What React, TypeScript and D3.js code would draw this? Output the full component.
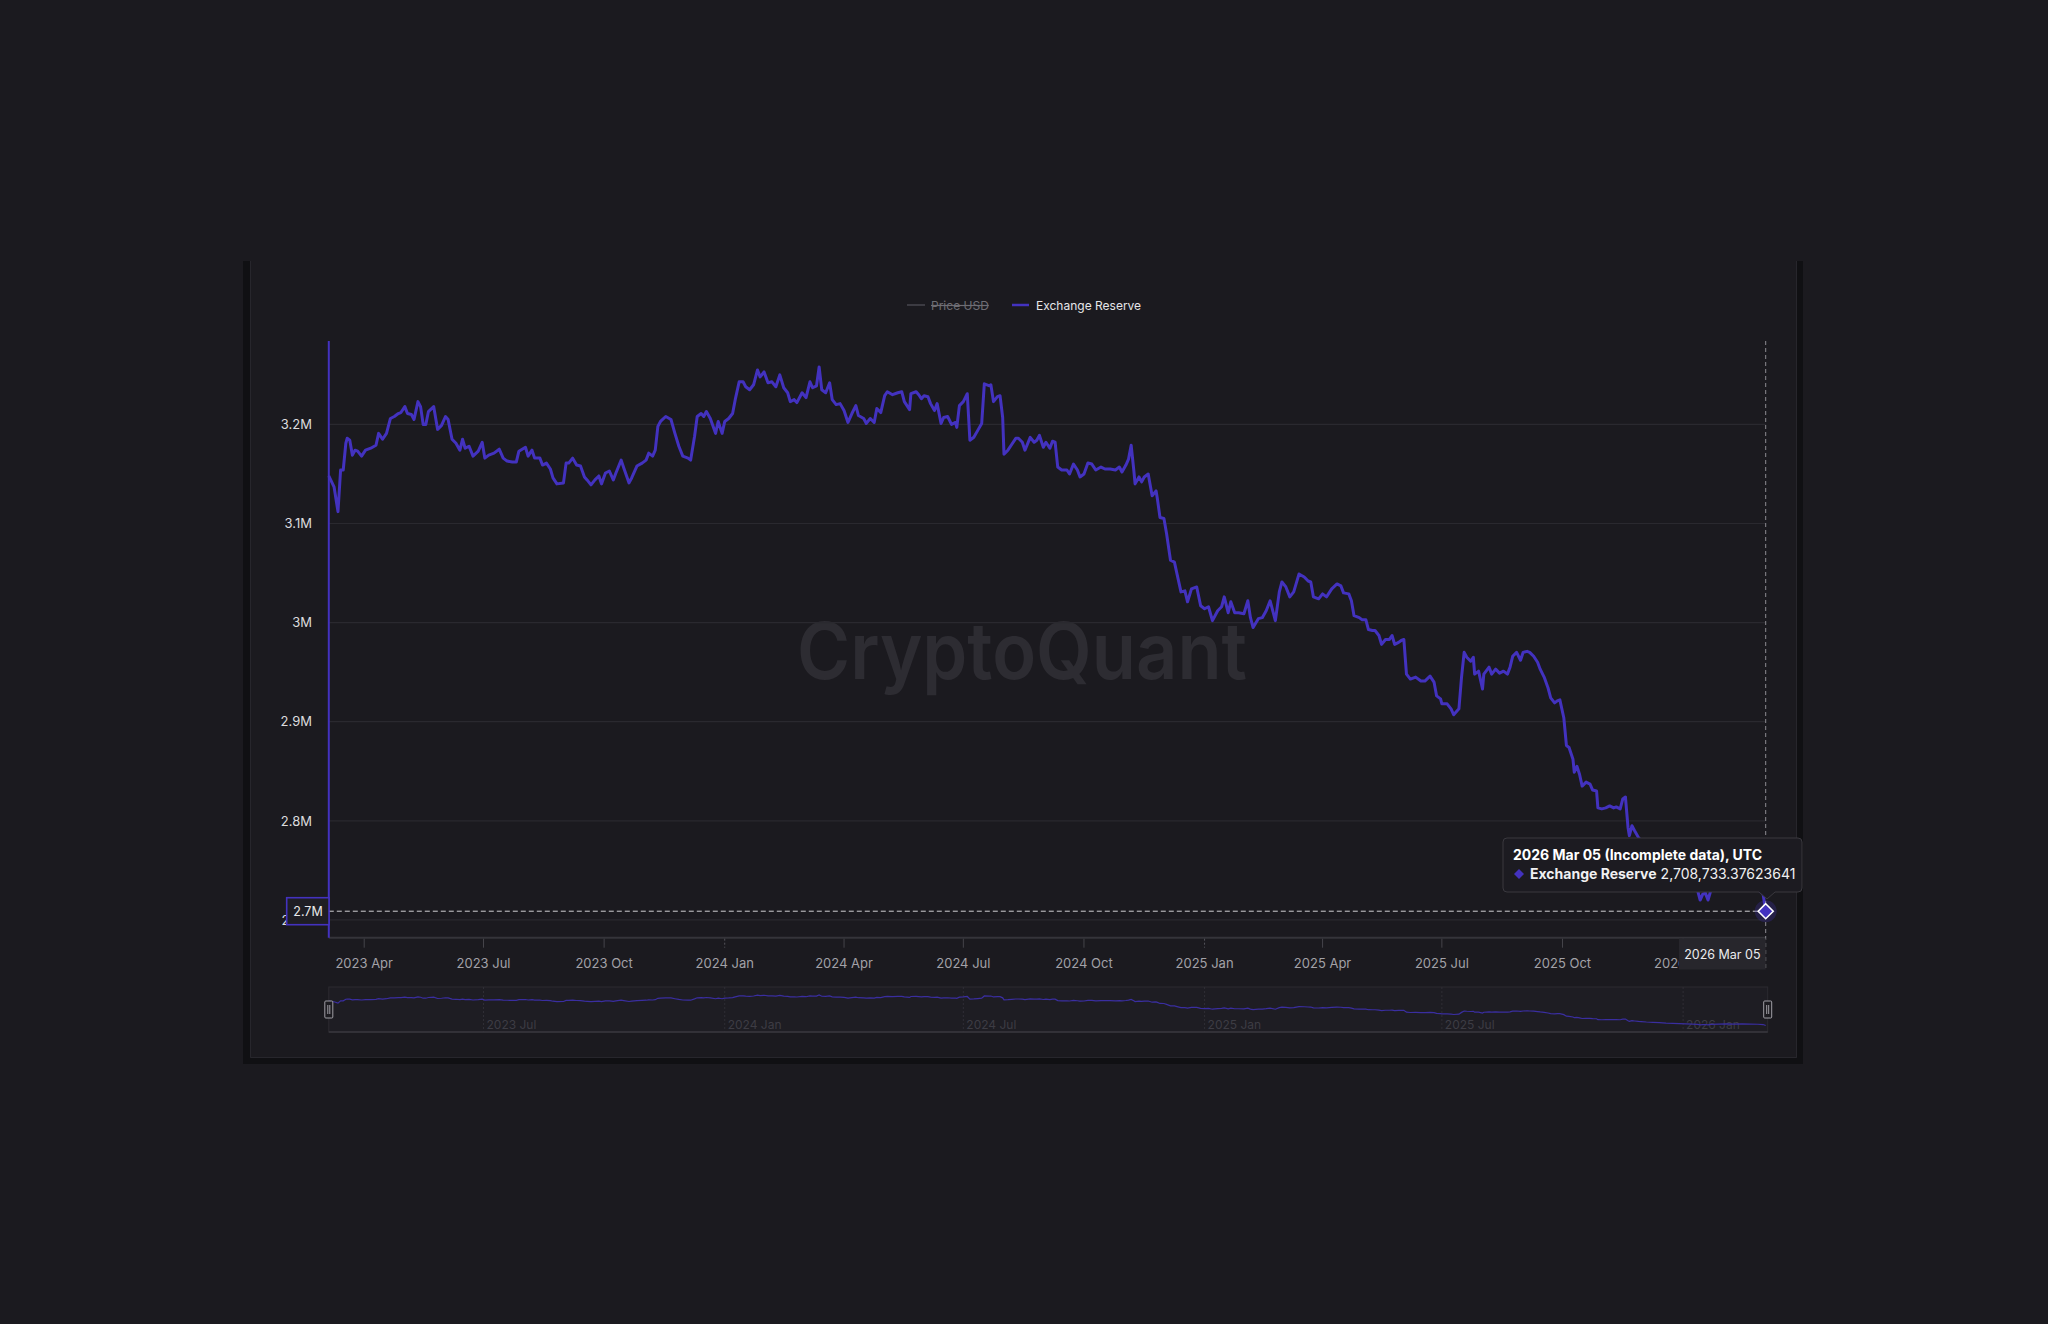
import React from "react";
import * as d3 from "d3";

// ---------- DATA ----------
const START_DATE = "2023-03-05";
const END_DATE = "2026-03-05";

// [days since START_DATE, exchange reserve in millions]
const reserveByDay: [number, number][] = [
  [0, 3.148], [4, 3.137], [7, 3.112], [9, 3.154], [11, 3.154], [13, 3.181], [14, 3.186], [16, 3.184],
  [18, 3.169], [20, 3.174], [22, 3.173], [25, 3.168], [28, 3.174], [32, 3.176], [36, 3.179], [38, 3.191],
  [41, 3.185], [44, 3.191], [47, 3.206], [50, 3.208], [53, 3.211], [55, 3.212], [58, 3.218], [60, 3.211],
  [63, 3.210], [65, 3.205], [68, 3.223], [70, 3.218], [72, 3.200], [74, 3.200], [76, 3.213], [80, 3.218],
  [83, 3.195], [86, 3.199], [89, 3.208], [91, 3.205], [94, 3.185], [97, 3.181], [100, 3.174], [102, 3.185],
  [104, 3.176], [107, 3.178], [110, 3.168], [114, 3.173], [117, 3.182], [119, 3.166], [122, 3.169], [126, 3.171],
  [130, 3.175], [133, 3.166], [136, 3.163], [140, 3.162], [143, 3.162], [145, 3.173], [150, 3.177], [152, 3.168],
  [155, 3.174], [157, 3.166], [161, 3.166], [163, 3.159], [166, 3.161], [169, 3.155], [171, 3.146], [174, 3.140],
  [179, 3.141], [181, 3.161], [183, 3.161], [186, 3.166], [189, 3.159], [192, 3.158], [195, 3.147], [197, 3.144],
  [200, 3.139], [203, 3.144], [206, 3.148], [208, 3.140], [211, 3.151], [214, 3.153], [217, 3.144], [219, 3.151],
  [223, 3.164], [225, 3.156], [229, 3.141], [231, 3.146], [235, 3.158], [239, 3.161], [242, 3.164], [244, 3.171],
  [247, 3.168], [249, 3.174], [251, 3.198], [253, 3.203], [257, 3.208], [261, 3.205], [264, 3.191], [267, 3.178],
  [270, 3.168], [274, 3.166], [276, 3.164], [279, 3.188], [281, 3.208], [284, 3.211], [286, 3.208], [288, 3.213],
  [291, 3.206], [295, 3.191], [297, 3.203], [300, 3.191], [302, 3.203], [305, 3.206], [308, 3.211], [310, 3.225],
  [313, 3.243], [316, 3.243], [318, 3.238], [321, 3.235], [324, 3.240], [327, 3.255], [329, 3.248], [332, 3.253],
  [335, 3.242], [338, 3.243], [341, 3.238], [344, 3.250], [347, 3.237], [350, 3.232], [352, 3.223], [355, 3.225],
  [357, 3.222], [361, 3.232], [364, 3.227], [367, 3.243], [369, 3.237], [372, 3.239], [374, 3.258], [376, 3.235],
  [379, 3.232], [382, 3.242], [384, 3.225], [387, 3.220], [390, 3.221], [393, 3.214], [396, 3.202], [399, 3.211],
  [402, 3.219], [404, 3.209], [408, 3.206], [410, 3.201], [413, 3.206], [416, 3.202], [418, 3.216], [421, 3.212],
  [424, 3.229], [426, 3.233], [430, 3.230], [434, 3.232], [437, 3.233], [439, 3.223], [441, 3.219], [443, 3.215],
  [444, 3.231], [448, 3.233], [450, 3.230], [452, 3.226], [454, 3.229], [457, 3.228], [459, 3.221], [462, 3.214],
  [464, 3.221], [467, 3.201], [469, 3.207], [472, 3.208], [475, 3.200], [478, 3.202], [479, 3.197], [481, 3.219],
  [484, 3.223], [487, 3.231], [489, 3.184], [492, 3.187], [495, 3.194], [498, 3.201], [500, 3.241], [504, 3.239],
  [505, 3.240], [507, 3.223], [510, 3.228], [512, 3.229], [514, 3.207], [515, 3.170], [518, 3.174], [521, 3.180],
  [524, 3.186], [526, 3.186], [529, 3.182], [531, 3.174], [535, 3.187], [538, 3.182], [540, 3.184], [542, 3.189],
  [545, 3.177], [547, 3.182], [550, 3.176], [552, 3.183], [554, 3.182], [556, 3.157], [559, 3.154], [563, 3.154],
  [565, 3.150], [568, 3.160], [571, 3.154], [573, 3.147], [576, 3.150], [579, 3.161], [582, 3.160], [585, 3.154],
  [589, 3.157], [592, 3.155], [596, 3.155], [600, 3.154], [603, 3.157], [605, 3.152], [608, 3.159], [610, 3.165],
  [612, 3.179], [614, 3.154], [615, 3.140], [618, 3.147], [620, 3.142], [622, 3.147], [625, 3.150], [628, 3.128],
  [631, 3.133], [632, 3.125], [634, 3.106], [637, 3.105], [639, 3.090], [642, 3.063], [645, 3.061], [647, 3.049],
  [650, 3.031], [653, 3.032], [655, 3.021], [658, 3.034], [662, 3.036], [665, 3.017], [668, 3.014], [671, 3.016],
  [674, 3.002], [678, 3.012], [681, 3.016], [683, 3.026], [686, 3.010], [688, 3.021], [691, 3.010], [694, 3.010],
  [698, 3.009], [701, 3.022], [703, 3.005], [705, 2.995], [709, 3.004], [712, 3.005], [715, 3.012], [718, 3.022],
  [722, 3.002], [725, 3.031], [727, 3.041], [730, 3.036], [733, 3.026], [736, 3.031], [740, 3.049], [744, 3.046],
  [747, 3.042], [749, 3.041], [751, 3.026], [755, 3.024], [758, 3.029], [761, 3.026], [765, 3.034], [769, 3.039],
  [772, 3.037], [774, 3.030], [778, 3.029], [780, 3.022], [782, 3.007], [786, 3.005], [788, 3.003], [791, 3.003],
  [793, 2.993], [796, 2.992], [798, 2.992], [801, 2.987], [803, 2.978], [806, 2.983], [809, 2.983], [811, 2.987],
  [813, 2.978], [816, 2.980], [818, 2.982], [820, 2.983], [822, 2.948], [825, 2.943], [829, 2.945], [833, 2.941],
  [836, 2.941], [840, 2.946], [843, 2.940], [845, 2.926], [848, 2.923], [849, 2.918], [853, 2.918], [856, 2.913],
  [858, 2.907], [862, 2.913], [864, 2.945], [866, 2.970], [868, 2.965], [871, 2.961], [873, 2.965], [874, 2.948],
  [877, 2.951], [880, 2.933], [881, 2.948], [885, 2.955], [887, 2.948], [890, 2.953], [893, 2.949], [896, 2.951],
  [899, 2.948], [901, 2.955], [903, 2.966], [906, 2.970], [909, 2.962], [911, 2.970], [914, 2.971], [916, 2.970],
  [919, 2.966], [922, 2.960], [924, 2.953], [927, 2.945], [930, 2.934], [932, 2.924], [935, 2.919], [937, 2.921],
  [939, 2.922], [942, 2.904], [944, 2.876], [946, 2.874], [949, 2.862], [950, 2.849], [952, 2.855], [954, 2.847],
  [956, 2.835], [959, 2.839], [962, 2.837], [964, 2.831], [967, 2.830], [968, 2.813], [971, 2.812], [974, 2.813],
  [977, 2.815], [980, 2.813], [982, 2.814], [985, 2.812], [987, 2.822], [989, 2.824], [991, 2.793], [992, 2.785],
  [994, 2.795], [996, 2.790], [999, 2.783], [1001, 2.780], [1005, 2.772], [1010, 2.765], [1015, 2.760], [1020, 2.752],
  [1025, 2.748], [1030, 2.742], [1035, 2.738], [1040, 2.735], [1044, 2.730], [1046, 2.720], [1048, 2.726], [1050, 2.727],
  [1052, 2.720], [1054, 2.729], [1060, 2.735], [1066, 2.738], [1072, 2.734], [1078, 2.737], [1084, 2.733], [1090, 2.731],
  [1094, 2.726], [1096, 2.708733],
];

const lastValue = 2708733.37623641;
const lastLabel = "2026 Mar 05";

const yTickValues = [2.7, 2.8, 2.9, 3.0, 3.1, 3.2];
const yTickLabels = ["2.7M", "2.8M", "2.9M", "3M", "3.1M", "3.2M"];

const xTickDates = [
  "2023-04-01", "2023-07-01", "2023-10-01", "2024-01-01", "2024-04-01", "2024-07-01",
  "2024-10-01", "2025-01-01", "2025-04-01", "2025-07-01", "2025-10-01", "2026-01-01",
];
const navTickDates = ["2023-07-01", "2024-01-01", "2024-07-01", "2025-01-01", "2025-07-01", "2026-01-01"];

const legendNames = ["Price USD", "Exchange Reserve"];

// ---------- STYLE ----------
const BG = "#1b1a1f";
const PURPLE = "#4332bf";
const GRID = "#2a292f";
const FONT = "Inter, 'Noto Sans', sans-serif";

const L = 328.8, R = 1765.7, T = 341, B = 937.7;

const parseUtc = (s: string) => {
  const [y, m, d] = s.split("-").map(Number);
  return new Date(Date.UTC(y, m - 1, d));
};

export default function App() {
  const start = parseUtc(START_DATE);
  const end = parseUtc(END_DATE);
  const data = reserveByDay.map(([d, v]) => ({ date: d3.utcDay.offset(start, d), value: v }));

  const x = d3.scaleUtc().domain([start, end]).range([L, R]);
  const y = d3.scaleLinear().domain([2.682, 3.2842]).range([B, T]);

  const line = d3.line<{ date: Date; value: number }>()
    .x((d) => x(d.date))
    .y((d) => y(d.value));

  const navTop = 987, navBot = 1032;
  const ext = d3.extent(data, (d) => d.value) as [number, number];
  const yNav = d3.scaleLinear().domain(ext).range([1025.5, 995]);
  const navLine = d3.line<{ date: Date; value: number }>()
    .x((d) => x(d.date))
    .y((d) => yNav(d.value));

  const fmtTick = d3.utcFormat("%Y %b");
  const cx = x(end);
  const cy = y(lastValue / 1e6);
  const valueText = d3.format(",.8f")(lastValue);
  const crossLabel = d3.format(".1f")(lastValue / 1e6) + "M";

  return (
    <svg width={2048} height={1324} style={{ position: "absolute", left: 0, top: 0 }} fontFamily={FONT}>
      <rect x={0} y={0} width={2048} height={1324} fill={BG} />

      {/* card frame */}
      <rect x={243} y={261} width={7} height={803} fill="#101013" />
      <rect x={1797} y={261} width={6} height={803} fill="#101013" />
      <rect x={243} y={1058} width={1560} height={6} fill="#101013" />
      <line x1={250.5} y1={261} x2={250.5} y2={1057.5} stroke="#27262c" strokeWidth={1} />
      <line x1={250.5} y1={1057.5} x2={1796.5} y2={1057.5} stroke="#27262c" strokeWidth={1} />
      <line x1={1796.5} y1={261} x2={1796.5} y2={1057.5} stroke="#27262c" strokeWidth={1} />

      {/* legend */}
      <line x1={907} y1={305} x2={925} y2={305} stroke="#3c3b42" strokeWidth={2} />
      <text x={931} y={309.5} fontSize={12} fill="#6e6d74" style={{ textDecoration: "line-through" }}>
        {legendNames[0]}
      </text>
      <line x1={1012} y1={305} x2={1029} y2={305} stroke={PURPLE} strokeWidth={2.5} />
      <text x={1036} y={309.5} fontSize={12} fill="#e6e6e8">{legendNames[1]}</text>

      {/* watermark */}
      <text x={797} y={679} fontSize={78} fontWeight={600} fill="#2d2c32"
        textLength={450} lengthAdjust="spacingAndGlyphs">CryptoQuant</text>

      {/* gridlines + y labels */}
      {yTickValues.map((v, i) => (
        <g key={v}>
          <line x1={L} x2={R} y1={y(v)} y2={y(v)} stroke={GRID} strokeWidth={1.2} />
          <text x={312} y={y(v) + 4.8} fontSize={13} fill="#dcdcde" textAnchor="end">{yTickLabels[i]}</text>
        </g>
      ))}

      {/* x axis */}
      <line x1={L} x2={R} y1={B} y2={B} stroke="#35343a" strokeWidth={2} />
      {xTickDates.map((s) => {
        const dt = parseUtc(s);
        const px = x(dt);
        const isYear = dt.getUTCMonth() === 0;
        return (
          <g key={s}>
            <line x1={px} x2={px} y1={B + 1} y2={B + 10} stroke={isYear ? "#55545a" : "#45444a"}
              strokeWidth={1} strokeDasharray={isYear ? "2,2" : undefined} />
            <text x={px} y={968} fontSize={13} fill="#a2a1a7" textAnchor="middle">{fmtTick(dt)}</text>
          </g>
        );
      })}

      {/* series */}
      <path d={line(data) || ""} fill="none" stroke={PURPLE} strokeWidth={3} strokeLinejoin="round" />
      <line x1={L} x2={L} y1={T} y2={B} stroke={PURPLE} strokeWidth={2} />

      {/* crosshairs */}
      <line x1={cx} x2={cx} y1={T} y2={969} stroke="#8d8c92" strokeWidth={1} strokeDasharray="4,3" />
      <line x1={L} x2={cx} y1={cy} y2={cy} stroke="#cfcfd2" strokeWidth={1} strokeDasharray="5,3" />

      {/* y crosshair label */}
      <rect x={286.7} y={cy - 13.5} width={42.3} height={27} fill="#1f1e24" stroke={PURPLE} strokeWidth={1.6} />
      <text x={308} y={cy + 4.3} fontSize={12.5} fill="#e8e8ea" textAnchor="middle">{crossLabel}</text>

      {/* x crosshair label */}
      <rect x={1679} y={938.5} width={cx - 1679} height={31} fill="#27262c" />
      <text x={(1679 + cx) / 2} y={959} fontSize={12.5} fill="#ececee" textAnchor="middle">{lastLabel}</text>

      {/* marker */}
      <circle cx={cx} cy={cy} r={11} fill={PURPLE} opacity={0.25} />
      <path d={`M${cx},${cy - 7.5} L${cx + 7.5},${cy} L${cx},${cy + 7.5} L${cx - 7.5},${cy} Z`}
        fill={PURPLE} stroke="#ffffff" strokeWidth={1.6} />

      {/* tooltip */}
      <path d={`M1507,838 H1798 Q1802,838 1802,842 V888 Q1802,892 1798,892 H1775 L1767,899 L1759,892 H1507 Q1503,892 1503,888 V842 Q1503,838 1507,838 Z`}
        fill="#1c1b21" stroke="#3a393f" strokeWidth={1} />
      <text x={1513} y={860} fontSize={14} fontWeight={700} fill="#ffffff">
        {lastLabel + " (Incomplete data), UTC"}
      </text>
      <path d="M1519,869 L1524,874 L1519,879 L1514,874 Z" fill={PURPLE} />
      <text x={1530} y={879} fontSize={14} fill="#f0f0f2">
        <tspan fontWeight={700}>{legendNames[1]}</tspan>
        <tspan dx={4}>{valueText}</tspan>
      </text>

      {/* navigator */}
      <rect x={L} y={navTop} width={R - L + 2} height={navBot - navTop} fill="#1e1d23" stroke="#2c2b31" strokeWidth={1} />
      {navTickDates.map((s) => {
        const px = x(parseUtc(s));
        return (
          <g key={s}>
            <line x1={px} x2={px} y1={navTop} y2={navBot} stroke="#2f2e35" strokeWidth={1} strokeDasharray="2,2" />
            <text x={px + 3} y={1029} fontSize={12} fill="#3d3c44">{fmtTick(parseUtc(s))}</text>
          </g>
        );
      })}
      <path d={navLine(data) || ""} fill="none" stroke="#3a2ea0" strokeWidth={1.2} />
      <line x1={L} x2={R + 2} y1={navBot} y2={navBot} stroke="#38373e" strokeWidth={1.5} />
      {[L, R + 2].map((hx, i) => (
        <g key={i}>
          <rect x={hx - 4} y={1001} width={8} height={17} fill="#1d1c21" stroke="#a09fa6" strokeWidth={1} rx={1} />
          <line x1={hx - 1} x2={hx - 1} y1={1005} y2={1014} stroke="#a09fa6" strokeWidth={1} />
          <line x1={hx + 1} x2={hx + 1} y1={1005} y2={1014} stroke="#a09fa6" strokeWidth={1} />
        </g>
      ))}
    </svg>
  );
}
